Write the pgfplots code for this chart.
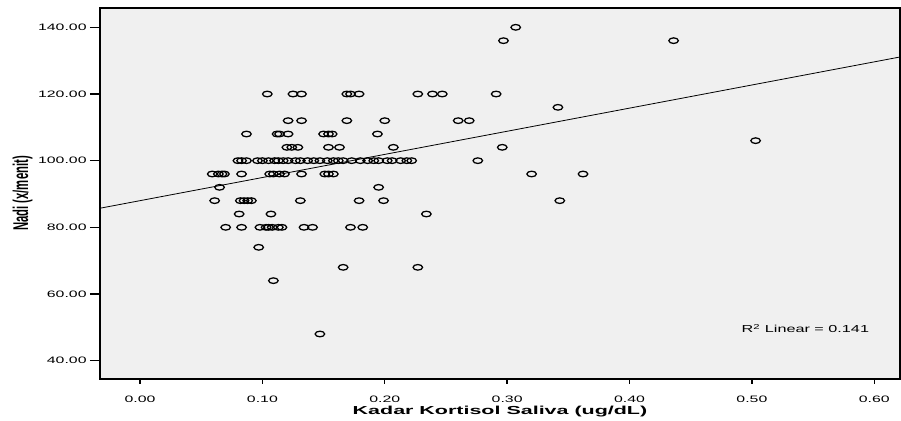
\documentclass[border=0pt]{standalone}
\usepackage{fontspec}
\setmainfont{Liberation Sans}
\usepackage{graphicx}
\usepackage{pgfplots}
\pgfplotsset{compat=1.18}
\newfontfamily\tickfont[FakeStretch=1.7]{Liberation Sans}
\newfontfamily\rfont[FakeStretch=1.6]{Liberation Sans}
\definecolor{bgc}{HTML}{F0F0F0}
\begin{document}
\begin{tikzpicture}
\begin{axis}[
  at={(0,0)}, anchor=south west,
  width=600pt, height=278.25pt, scale only axis,
  xmin=-0.0327, xmax=0.621, ymin=34.5, ymax=145.8,
  axis background/.style={fill=bgc},
  axis line style={line width=0.9pt},
  xtick={0,0.1,0.2,0.3,0.4,0.5,0.6},
  ytick={40,60,80,100,120,140},
  tick align=outside,
  xtick pos=bottom, ytick pos=left,
  major tick length=7.5pt,
  xtick style={line width=1pt, /pgfplots/major tick length=3.75pt, black},
  ytick style={line width=1pt, black},
  /pgf/number format/assume math mode=true,
  /pgf/number format/fixed, /pgf/number format/fixed zerofill,
  /pgf/number format/precision=2,
  scaled ticks=false,
  tick label style={font={\tickfont\fontsize{7}{8}\selectfont}},
  xticklabel style={yshift=-2pt},
  yticklabel style={xshift=1pt},
  xlabel={\scalebox{1.85}[1]{\bfseries\fontsize{8.7}{10}\selectfont Kadar Kortisol Saliva (ug/dL)}},
  xlabel style={at={(axis description cs:0.5,-0.0877)}, anchor=center},
  ylabel={\scalebox{0.53}[1]{\bfseries\fontsize{16}{18}\selectfont Nadi (x/menit)}},
  ylabel style={at={(axis description cs:-0.0967,0.5)}, anchor=center},
  clip=true,
]
\addplot[only marks, mark=o, mark size=2.1pt, mark options={xscale=1.7, line width=0.95pt, black}] coordinates {
(0.307,140)
(0.297,136) (0.436,136)
(0.104,120) (0.125,120) (0.132,120) (0.169,120) (0.172,120) (0.179,120) (0.227,120) (0.239,120) (0.247,120) (0.291,120)
(0.3415,116)
(0.121,112) (0.132,112) (0.169,112) (0.200,112) (0.260,112) (0.269,112)
(0.087,108) (0.112,108) (0.114,108) (0.121,108) (0.150,108) (0.154,108) (0.157,108) (0.194,108)
(0.503,106)
(0.120,104) (0.124,104) (0.129,104) (0.154,104) (0.163,104) (0.207,104) (0.296,104)
(0.080,100) (0.083,100) (0.087,100) (0.096,100) (0.100,100) (0.105,100) (0.110,100) (0.113,100) (0.117,100) (0.121,100)
(0.127,100) (0.131,100) (0.137,100) (0.142,100) (0.147,100) (0.153,100) (0.158,100) (0.162,100) (0.166,100) (0.173,100)
(0.180,100) (0.186,100) (0.191,100) (0.195,100) (0.202,100) (0.206,100) (0.213,100) (0.218,100) (0.222,100) (0.276,100)
(0.059,96) (0.064,96) (0.067,96) (0.069,96) (0.083,96) (0.106,96) (0.109,96) (0.114,96) (0.118,96) (0.132,96)
(0.151,96) (0.154,96) (0.158,96) (0.320,96) (0.362,96)
(0.065,92) (0.195,92)
(0.061,88) (0.082,88) (0.085,88) (0.088,88) (0.091,88) (0.131,88) (0.179,88) (0.199,88) (0.343,88)
(0.081,84) (0.107,84) (0.234,84)
(0.070,80) (0.083,80) (0.098,80) (0.103,80) (0.105,80) (0.108,80) (0.113,80) (0.116,80) (0.134,80) (0.141,80) (0.172,80) (0.182,80)
(0.097,74)
(0.166,68) (0.227,68)
(0.109,64)
(0.147,48)
};
\addplot[black, line width=0.6pt] coordinates {(-0.0327,85.73) (0.621,131.1)};
\node[font={\rfont\fontsize{7.6}{9}\selectfont}] at (axis cs:0.5437,49.6) {R\textsuperscript{2} Linear = 0.141};
\end{axis}
\pgfresetboundingbox
\path (-75pt,-31.5pt) rectangle (600.75pt,284.25pt);
\end{tikzpicture}
\end{document}
